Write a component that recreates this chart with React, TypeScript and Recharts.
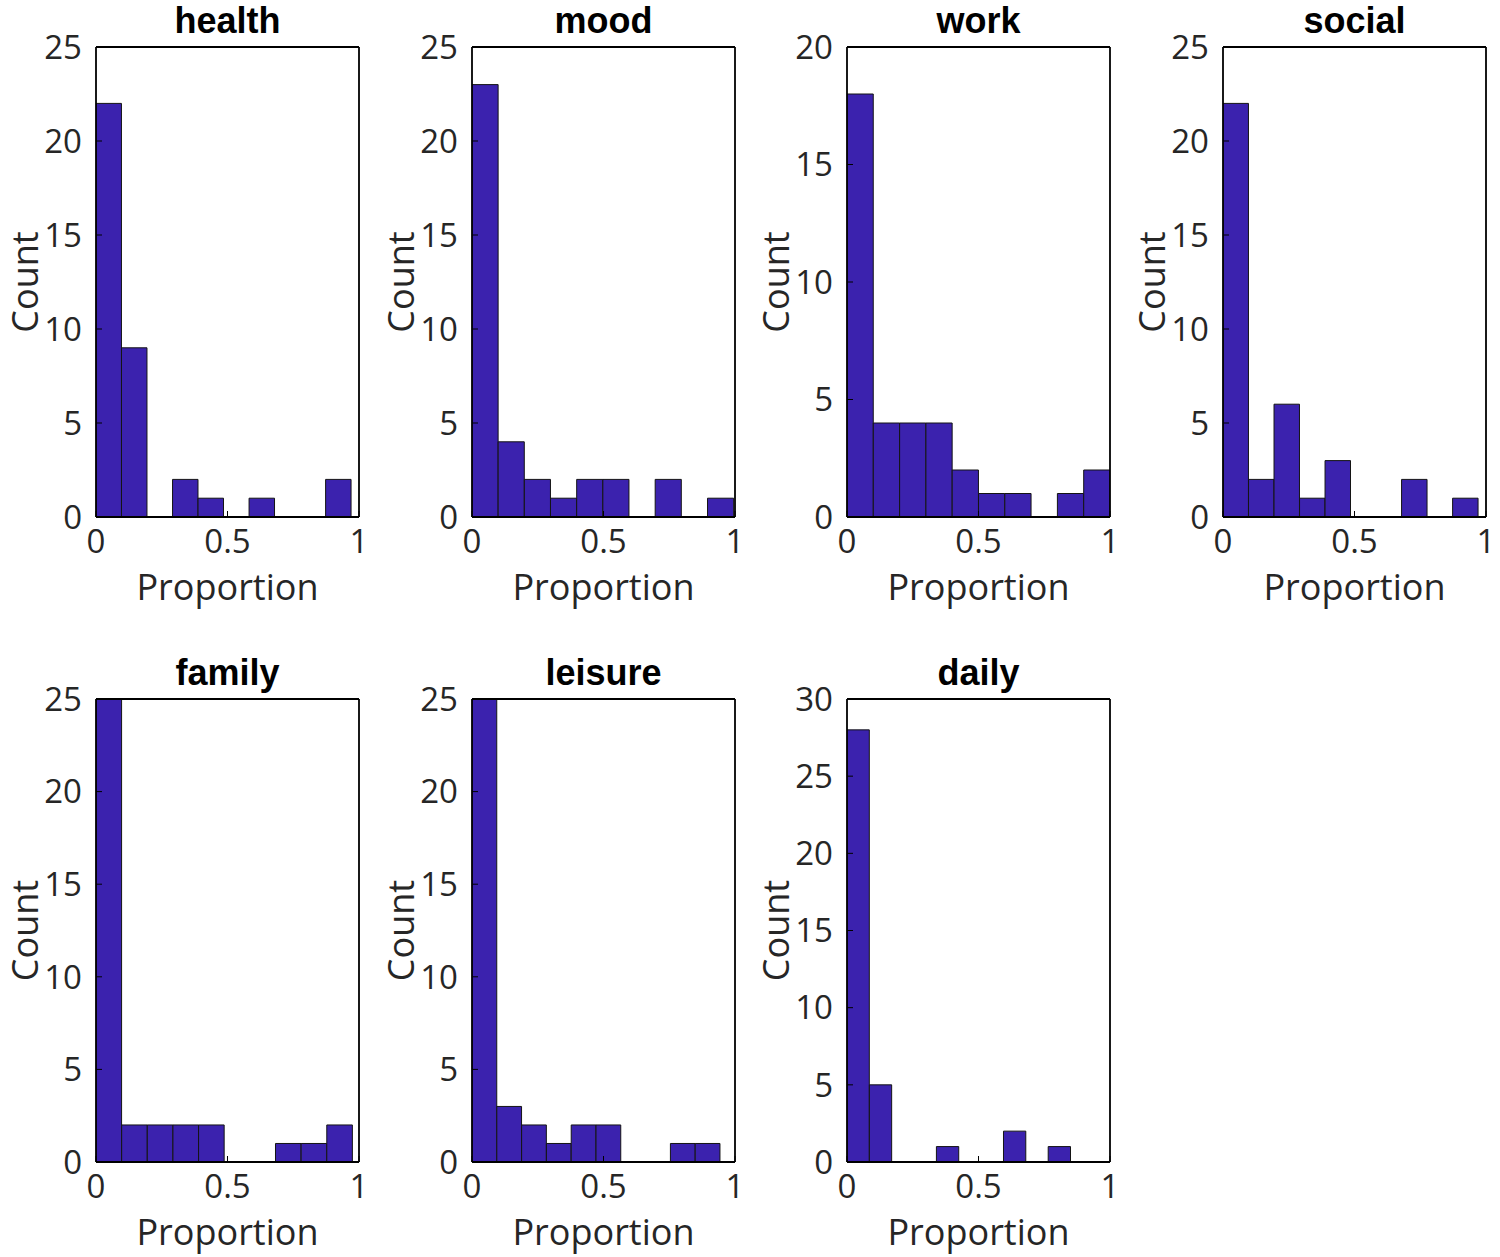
import React from 'react';
import { BarChart, Bar, XAxis, YAxis } from 'recharts';

// Histogram panels: proportion of entries per category, 10 bins each
const PANEL_TITLES = ['health', 'mood', 'work', 'social', 'family', 'leisure', 'daily'];
const BIN_WIDTHS = [0.097, 0.0995, 0.1, 0.097, 0.0975, 0.0943, 0.085];

const COUNTS_HEALTH = [22, 9, 0, 2, 1, 0, 1, 0, 0, 2];
const COUNTS_MOOD = [23, 4, 2, 1, 2, 2, 0, 2, 0, 1];
const COUNTS_WORK = [18, 4, 4, 4, 2, 1, 1, 0, 1, 2];
const COUNTS_SOCIAL = [22, 2, 6, 1, 3, 0, 0, 2, 0, 1];
const COUNTS_FAMILY = [25, 2, 2, 2, 2, 0, 0, 1, 1, 2];
const COUNTS_LEISURE = [25, 3, 2, 1, 2, 2, 0, 0, 1, 1];
const COUNTS_DAILY = [28, 5, 0, 0, 1, 0, 0, 2, 0, 1];

const Y_TICKS_20 = [0, 5, 10, 15, 20];
const Y_TICKS_25 = [0, 5, 10, 15, 20, 25];
const Y_TICKS_30 = [0, 5, 10, 15, 20, 25, 30];
const X_TICKS = [0, 0.5, 1];

const ALL_COUNTS = [COUNTS_HEALTH, COUNTS_MOOD, COUNTS_WORK, COUNTS_SOCIAL, COUNTS_FAMILY, COUNTS_LEISURE, COUNTS_DAILY];
const ALL_Y_TICKS = [Y_TICKS_25, Y_TICKS_25, Y_TICKS_20, Y_TICKS_25, Y_TICKS_25, Y_TICKS_25, Y_TICKS_30];

// layout
const PLOT_W = 263;
const COL_X = [96, 471.5, 847, 1222.5];
const ROWS = [
  { top: 47, h: 470 },
  { top: 699, h: 463 },
];
const TOP_SPACE = 47;
const Y_AXIS_W = 96;
const X_AXIS_H = 94;
const FONT = '"Open Sans", "DejaVu Sans", sans-serif';
const TITLE_FONT = '"Liberation Sans", Arial, sans-serif';
const BAR_FILL = '#3b22ae';
const TEXT_COLOR = '#262626';
const AXIS_STROKE = { stroke: '#000', strokeWidth: 1.8 };

const tickStyle = { fontSize: 33, fill: TEXT_COLOR, fontFamily: FONT };

interface PanelProps {
  title: string;
  counts: number[];
  binWidth: number;
  yTicks: number[];
  left: number;
  top: number;
  plotH: number;
}

const Panel: React.FC<PanelProps> = ({ title, counts, binWidth, yTicks, left, top, plotH }) => {
  const data = counts.map((count, i) => ({ x: (i + 0.5) * binWidth, count }));
  const yMax = yTicks[yTicks.length - 1];
  const width = Y_AXIS_W + PLOT_W + 16;
  const height = TOP_SPACE + plotH + X_AXIS_H;

  const titleLabel = (props: any) => {
    const vb = props.viewBox;
    return (
      <text
        x={vb.x + vb.width / 2}
        y={vb.y + vb.height - 14}
        textAnchor="middle"
        fontFamily={TITLE_FONT}
        fontWeight="bold"
        fontSize={36}
        fill="#000"
      >
        {title}
      </text>
    );
  };

  const xLabel = (props: any) => {
    const vb = props.viewBox;
    return (
      <text x={vb.x + vb.width / 2} y={vb.y + 83} textAnchor="middle" fontFamily={FONT} fontSize={36} fill={TEXT_COLOR}>
        Proportion
      </text>
    );
  };

  const yLabel = (props: any) => {
    const vb = props.viewBox;
    const cx = vb.x + 24.5;
    const cy = vb.y + vb.height / 2;
    return (
      <text
        x={cx}
        y={cy}
        textAnchor="middle"
        dominantBaseline="central"
        transform={`rotate(-90 ${cx} ${cy})`}
        fontFamily={FONT}
        fontSize={36}
        fill={TEXT_COLOR}
      >
        Count
      </text>
    );
  };

  return (
    <div style={{ position: 'absolute', left, top }}>
      <BarChart width={width} height={height} data={data} margin={{ top: TOP_SPACE - 1, right: 15, bottom: 0, left: 0 }}>
        <XAxis
          xAxisId={0}
          dataKey="x"
          type="number"
          domain={[0, 1]}
          ticks={X_TICKS}
          interval={0}
          allowDataOverflow
          height={X_AXIS_H}
          tickSize={-6}
          tickMargin={19}
          tick={tickStyle}
          axisLine={AXIS_STROKE}
          tickLine={{ stroke: '#000' }}
          label={xLabel}
        />
        <XAxis
          xAxisId="top"
          orientation="top"
          type="number"
          domain={[0, 1]}
          ticks={X_TICKS}
          interval={0}
          allowDataOverflow
          height={1}
          tickSize={-6}
          tick={false}
          axisLine={AXIS_STROKE}
          tickLine={{ stroke: '#000' }}
          label={titleLabel}
        />
        <YAxis
          yAxisId={0}
          type="number"
          domain={[0, yMax]}
          ticks={yTicks}
          interval={0}
          allowDataOverflow
          width={Y_AXIS_W}
          tickSize={-6}
          tickMargin={20}
          tick={tickStyle}
          axisLine={AXIS_STROKE}
          tickLine={{ stroke: '#000' }}
          label={yLabel}
        />
        <YAxis
          yAxisId="right"
          orientation="right"
          type="number"
          domain={[0, yMax]}
          ticks={yTicks}
          interval={0}
          allowDataOverflow
          width={1}
          tickSize={-6}
          tick={false}
          axisLine={AXIS_STROKE}
          tickLine={{ stroke: '#000' }}
        />
        <Bar
          dataKey="count"
          xAxisId={0}
          yAxisId={0}
          fill={BAR_FILL}
          stroke="#141414"
          strokeWidth={1}
          barSize={binWidth * PLOT_W - 0.05}
          isAnimationActive={false}
        />
      </BarChart>
    </div>
  );
};

export default function App() {
  return (
    <div style={{ position: 'absolute', left: 0, top: 0, width: 1500, height: 1257, background: '#fff' }}>
      {PANEL_TITLES.map((title, i) => {
        const row = ROWS[Math.floor(i / 4)];
        const col = i % 4;
        return (
          <Panel
            key={title}
            title={title}
            counts={ALL_COUNTS[i]}
            binWidth={BIN_WIDTHS[i]}
            yTicks={ALL_Y_TICKS[i]}
            left={COL_X[col] - Y_AXIS_W}
            top={row.top - TOP_SPACE}
            plotH={row.h}
          />
        );
      })}
    </div>
  );
}
